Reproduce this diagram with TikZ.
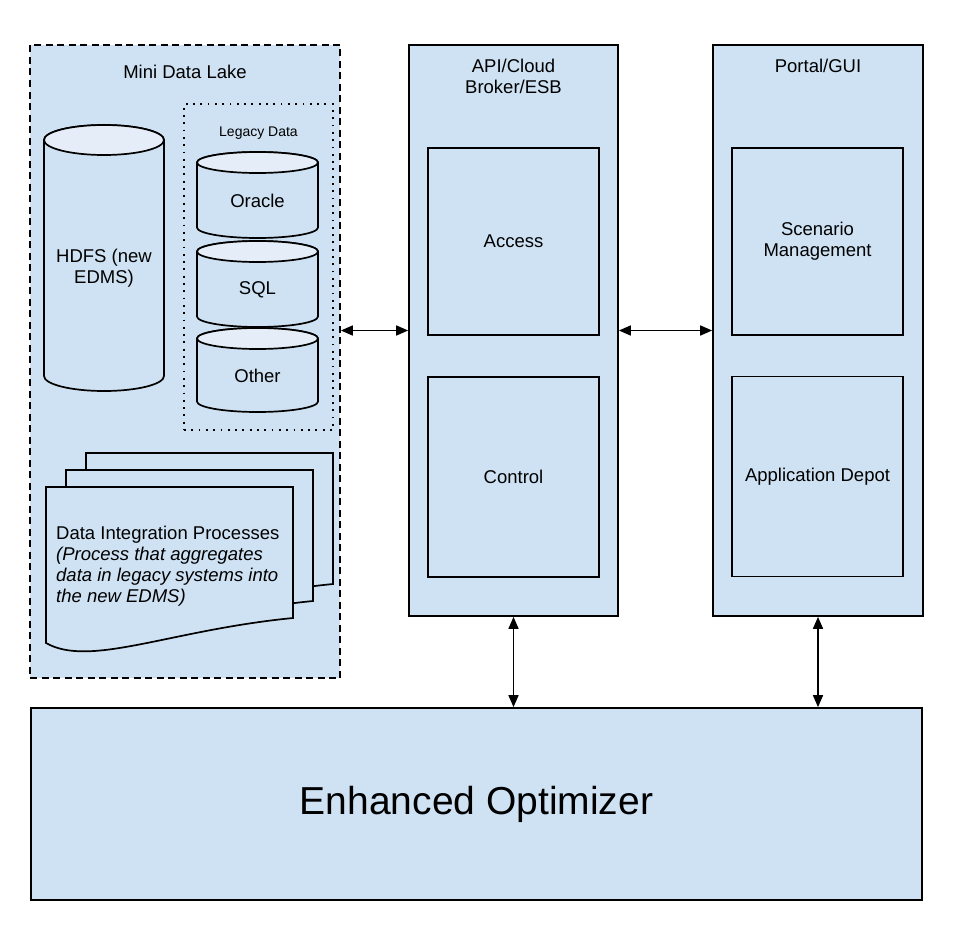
\documentclass[tikz,border=0pt]{standalone}
\usepackage{fontspec}
\setmainfont{Liberation Sans}
\usetikzlibrary{arrows.meta,positioning}
\definecolor{boxblue}{RGB}{207,226,243}
\definecolor{capblue}{RGB}{229,238,248}

\begin{document}
\begin{tikzpicture}[x=1pt,y=1pt,
    box/.style={draw, fill=boxblue, line width=1.7pt, inner sep=0pt,
      font=\fontsize{18.5}{21}\selectfont, align=center},
    lbl/.style={inner sep=0pt, font=\fontsize{18.5}{21}\selectfont, align=center},
    cyl/.style={draw, fill=boxblue, line width=1.7pt},
    sheet/.style={draw, fill=boxblue, line width=1.7pt},
    link/.style={line width=1.6pt,
      {Triangle[length=12pt,width=10pt]}-{Triangle[length=12pt,width=10pt]}}]
    \useasboundingbox (0,0) rectangle (960,-931);

    % mini data lake
    \node[box, line width=1.7pt, dash pattern=on 7pt off 4.5pt,
      minimum width=310, minimum height=633] (lake) at (185,-361.5) {};
    \node[lbl] (laketitle) at (185,-72) {Mini Data Lake};

    \draw[cyl] (44,-140) -- (44,-376)
      arc[start angle=180, end angle=360, x radius=60, y radius=15]
      -- (164,-140) arc[start angle=0, end angle=180, x radius=60, y radius=15] -- cycle;
    \draw[cyl, fill=capblue] (104,-140) ellipse[x radius=60, y radius=15];
    \node[lbl] (hdfs) at (104,-268) {HDFS (new\\EDMS)};

    % legacy data
    \node[draw, line width=1.8pt, dash pattern=on 1.8pt off 5.5pt,
      minimum width=149, minimum height=326] (legacy) at (258.5,-267) {};
    \node[lbl, font=\fontsize{14}{16}\selectfont] (legacytitle) at (258.5,-133) {Legacy Data};

    \foreach \yt/\yb/\txt/\nm in {162.5/227.5/Oracle/oracle, 251.5/316.5/SQL/sql,
        338.5/401.5/Other/other} {
      \draw[cyl] (197,-\yt) -- (197,-\yb)
        arc[start angle=180, end angle=360, x radius=60.5, y radius=10.5]
        -- (318,-\yt) arc[start angle=0, end angle=180, x radius=60.5, y radius=10.5] -- cycle;
      \draw[cyl, fill=capblue] (257.5,-\yt) ellipse[x radius=60.5, y radius=10.5];
      \node[lbl] (\nm) at (257.5,{-(\yt+\yb)/2-6}) {\txt};
    }

    % integration processes
    \foreach \dx/\dy in {40/34, 20/17, 0/0} {
      \draw[sheet, shift={(\dx,\dy)}] (46,-487) -- (293,-487) -- (293,-618)
        .. controls (170,-630) and (90,-668) .. (46,-643) -- cycle;
    }
    \node[lbl, align=left, anchor=north west] (dip) at (56,-526)
      {Data Integration Processes\\\textit{(Process that aggregates}\\
       \textit{data in legacy systems into}\\\textit{the new EDMS)}};

    % broker
    \node[box, minimum width=209, minimum height=571] (api) at (513.5,-330.5) {};
    \node[lbl, below=15pt of api.north] (apititle) {API/Cloud\\Broker/ESB};
    \node[box, minimum width=171, minimum height=187] (access) at (513.5,-241.5) {Access};
    \node[box, minimum width=171, minimum height=200] (control) at (513.5,-477) {Control};

    % portal
    \node[box, minimum width=210, minimum height=571] (portal) at (818,-330.5) {};
    \node[lbl, below=15pt of portal.north] (portaltitle) {Portal/GUI};
    \node[box, minimum width=171, minimum height=187] (scenario) at (817.5,-241.5)
      {Scenario\\Management};
    \node[box, minimum width=171, minimum height=200] (depot) at (817.5,-476.5)
      {Application Depot};

    % optimizer
    \node[box, minimum width=891, minimum height=192, font=\fontsize{39}{44}\selectfont]
      (opt) at (476.5,-804) {Enhanced Optimizer};

    \draw[link] (lake.east |- api.west) -- (api.west);
    \draw[link] (api.east) -- (portal.west);
    \draw[link] (api.south) -- (api.south |- opt.north);
    \draw[link] (portal.south) -- (portal.south |- opt.north);
\end{tikzpicture}
\end{document}
